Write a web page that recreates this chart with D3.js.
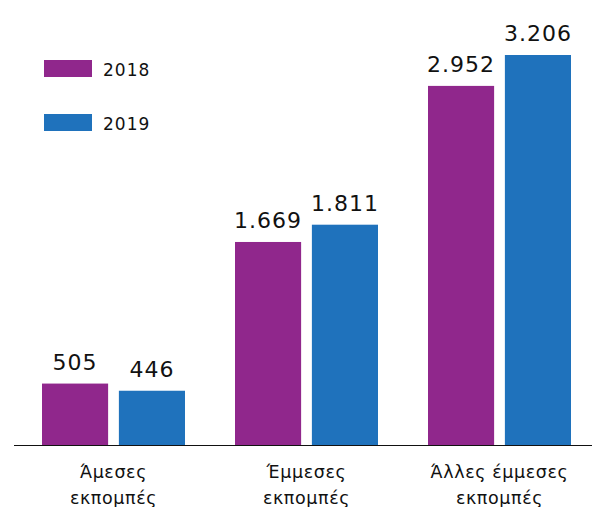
<!DOCTYPE html>
<html>
<head>
<meta charset="utf-8">
<script src="https://cdn.jsdelivr.net/npm/d3@7"></script>
<style>
  body { margin: 0; background: #fff; }
  text { font-family: "DejaVu Sans", sans-serif; fill: #111; }
</style>
</head>
<body>
<div id="chart"></div>
<script>
// data
var categories = [["Άμεσες", "εκπομπές"], ["Έμμεσες", "εκπομπές"], ["Άλλες έμμεσες", "εκπομπές"]];
var years = ["2018", "2019"];
var values2018 = [505, 1669, 2952];
var values2019 = [446, 1811, 3206];
var colors = ["#90278c", "#1f72bc"];

var width = 592, height = 507;
var baseY = 445;

var svg = d3.select("#chart")
  .append("svg")
    .attr("width", width)
    .attr("height", height);

var x0 = d3.scaleBand()
  .domain(d3.range(categories.length))
  .range([17, 596]);

var x1 = d3.scaleBand()
  .domain(years)
  .range([25, 168])
  .paddingInner(0.14);

var y = d3.scaleLinear()
  .domain([0, 3206])
  .range([baseY, 55]);

var fmt = function(v) { return d3.format(",")(v).replace(/,/g, "."); };

var rows = categories.map(function(c, i) {
  return { i: i, vals: [values2018[i], values2019[i]] };
});

var groups = svg.selectAll(".grp")
  .data(rows)
  .enter()
  .append("g")
    .attr("transform", function(d) { return "translate(" + x0(d.i) + ",0)"; });

groups.selectAll("rect")
  .data(function(d) { return d.vals.map(function(v, j) { return { v: v, year: years[j], j: j }; }); })
  .enter()
  .append("rect")
    .attr("x", function(d) { return x1(d.year); })
    .attr("y", function(d) { return y(d.v); })
    .attr("width", x1.bandwidth())
    .attr("height", function(d) { return baseY - y(d.v); })
    .attr("fill", function(d) { return colors[d.j]; });

groups.selectAll(".val")
  .data(function(d) { return d.vals.map(function(v, j) { return { v: v, year: years[j] }; }); })
  .enter()
  .append("text")
    .attr("x", function(d) { return x1(d.year) + x1.bandwidth() / 2; })
    .attr("y", function(d) { return y(d.v) - 14; })
    .attr("text-anchor", "middle")
    .style("font-size", "22px")
    .style("letter-spacing", "1px")
    .text(function(d) { return fmt(d.v); });

// baseline
svg.append("line")
  .attr("x1", 14).attr("x2", width)
  .attr("y1", baseY + 0.5).attr("y2", baseY + 0.5)
  .attr("stroke", "#111")
  .attr("stroke-width", 1);

// category labels
groups.append("text")
  .attr("x", x0.bandwidth() / 2)
  .attr("text-anchor", "middle")
  .style("font-size", "17.5px")
  .style("letter-spacing", "0.6px")
  .selectAll("tspan")
  .data(function(d) { return categories[d.i]; })
  .enter()
  .append("tspan")
    .attr("x", x0.bandwidth() / 2)
    .attr("y", function(d, k) { return 478 + k * 26; })
    .text(function(d) { return d; });

// legend
var legend = svg.selectAll(".leg")
  .data(years)
  .enter()
  .append("g")
    .attr("transform", function(d, i) { return "translate(44," + (60 + i * 54) + ")"; });

legend.append("rect")
  .attr("width", 48)
  .attr("height", 17)
  .attr("fill", function(d, i) { return colors[i]; });

legend.append("text")
  .attr("x", 59)
  .attr("y", 16)
  .style("font-size", "17px")
  .style("letter-spacing", "1px")
  .text(function(d) { return d; });
</script>
</body>
</html>
